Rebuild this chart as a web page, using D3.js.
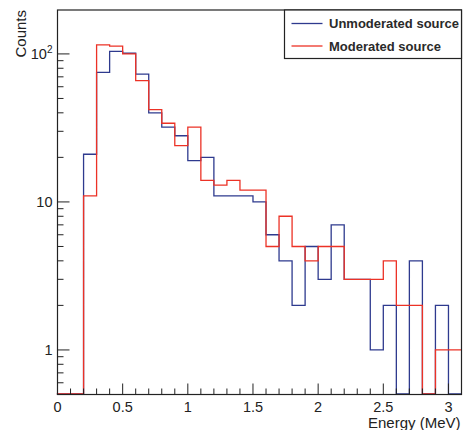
<!DOCTYPE html>
<html>
<head>
<meta charset="utf-8">
<script src="https://cdn.jsdelivr.net/npm/d3@7"></script>
<style>
  html, body { margin: 0; padding: 0; background: #fff; }
  svg { display: block; font-family: "Liberation Sans", Arial, Helvetica, sans-serif; }
</style>
</head>
<body>
<svg id="chart" width="463" height="430"></svg>
<script>
// ---- data ----
const binStart = 0.0;
const binWidth = 0.1;
const unmoderated = [0, 0, 21, 75, 104, 101, 73, 40, 32, 28, 19, 20, 11, 11, 11, 10, 6, 4, 2, 5, 3, 7, 3, 3, 1, 2, 0, 4, 0, 2, 0];
const moderated   = [0, 0, 11, 115, 113, 100, 66, 42, 34, 24, 32, 14, 13, 14, 12, 12, 5, 8, 5, 4, 5, 5, 3, 3, 3, 4, 2, 2, 0, 1, 1];
const seriesNames = ["Unmoderated source", "Moderated source"];
const seriesColors = ["#2e3a8e", "#ec3226"];
const xTickLabels = [0, 0.5, 1, 1.5, 2, 2.5, 3];
const yTickLabels = [1, 10, 100];
const xTitle = "Energy (MeV)";
const yTitle = "Counts";

// ---- layout ----
const svg = d3.select("#chart");
const L = 57.5, R = 461.5, T = 10, B = 394.5;
const x = d3.scaleLinear().domain([0, 3.1]).range([L, R]);
const y = d3.scaleLog().domain([0.5, 198]).range([B, T]);
const ink = "#222";

// histogram step paths
function stepPath(vals) {
  const pts = [];
  vals.forEach((v, i) => {
    const x0 = binStart + i * binWidth, x1 = x0 + binWidth;
    const yy = y(Math.max(v, 0.5)) - (v < 0.5 ? 0.6 : 0);
    pts.push([x(x0), yy], [x(x1), yy]);
  });
  pts.unshift([x(binStart), y(0.5)]);
  return d3.line()(pts);
}

const g = svg.append("g");
[unmoderated, moderated].forEach((vals, k) => {
  g.append("path")
    .attr("d", stepPath(vals))
    .attr("fill", "none")
    .attr("stroke", seriesColors[k])
    .attr("stroke-width", 1.3)
    .attr("stroke-linejoin", "miter");
});

// frame
svg.append("rect").attr("x", L).attr("y", T).attr("width", R - L).attr("height", B - T)
  .attr("fill", "none").attr("stroke", ink).attr("stroke-width", 1.2);

// x ticks (inside, upward)
const xMinor = d3.range(0, 31).map(i => +(i * 0.1).toFixed(1));
svg.append("g").selectAll("line").data(xMinor).join("line")
  .attr("x1", d => x(d)).attr("x2", d => x(d))
  .attr("y1", B).attr("y2", d => (Math.abs(d * 2 - Math.round(d * 2)) < 1e-6) ? B - 11 : B - 6)
  .attr("stroke", ink).attr("stroke-width", 1);

svg.append("g").selectAll("text").data(xTickLabels).join("text")
  .attr("x", d => x(d)).attr("y", B + 17)
  .attr("text-anchor", "middle")
  .attr("font-size", 14.5).attr("fill", ink)
  .text(d => d);

// y ticks (inside, rightward)
const yMinor = [];
for (let dec = 0.1; dec <= 100; dec *= 10) {
  for (let m = 1; m <= 9; m++) {
    const v = +(m * dec).toPrecision(3);
    if (v >= 0.5 && v <= 198) yMinor.push(v);
  }
}
svg.append("g").selectAll("line").data(yMinor).join("line")
  .attr("x1", L).attr("x2", d => yTickLabels.includes(d) ? L + 12 : L + 6)
  .attr("y1", d => y(d)).attr("y2", d => y(d))
  .attr("stroke", ink).attr("stroke-width", 1);

const yl = svg.append("g").selectAll("text").data(yTickLabels).join("text")
  .attr("x", L - 5).attr("y", d => y(d) + 5)
  .attr("text-anchor", "end")
  .attr("font-size", 14.5).attr("fill", ink);
yl.each(function(d) {
  const t = d3.select(this);
  if (d === 100) {
    t.append("tspan").text("10");
    t.append("tspan").attr("font-size", 10).attr("dy", -6).text("2");
  } else {
    t.text(d);
  }
});

// axis titles
svg.append("text")
  .attr("x", R - 1).attr("y", B + 33)
  .attr("text-anchor", "end").attr("font-size", 15).attr("fill", ink)
  .text(xTitle);
svg.append("text")
  .attr("transform", `translate(26,${T}) rotate(-90)`)
  .attr("text-anchor", "end").attr("font-size", 15).attr("fill", ink)
  .text(yTitle);

// legend
const lg = svg.append("g");
const lx0 = 284.5, ly0 = T, lx1 = R, ly1 = 58.5;
lg.append("rect").attr("x", lx0).attr("y", ly0).attr("width", lx1 - lx0).attr("height", ly1 - ly0)
  .attr("fill", "#fff").attr("stroke", ink).attr("stroke-width", 1.2);
seriesNames.forEach((name, i) => {
  const yy = 23.5 + i * 22.5;
  lg.append("line").attr("x1", 291.5).attr("x2", 322.5).attr("y1", yy).attr("y2", yy)
    .attr("stroke", seriesColors[i]).attr("stroke-width", 1.3);
  lg.append("text").attr("x", 329).attr("y", yy + 4.8)
    .attr("font-size", 13).attr("font-weight", "bold").attr("fill", "#2a2a2a")
    .text(name);
});
</script>
</body>
</html>
